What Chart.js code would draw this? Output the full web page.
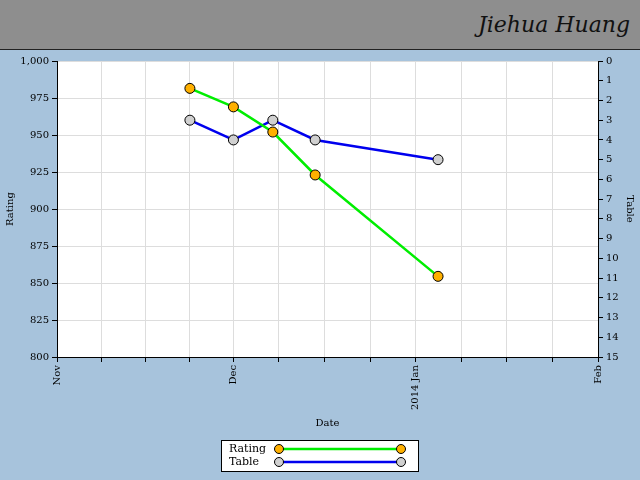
<!DOCTYPE html>
<html><head><meta charset="utf-8">
<script src="https://cdn.jsdelivr.net/npm/chart.js@4"></script>
<style>
body{margin:0;width:640px;height:480px;background:#a7c3dc;overflow:hidden}
#hdr{position:absolute;left:0;top:0;width:640px;height:50px;background:#8e8e8e;border-bottom:1px solid #222;box-sizing:border-box}
#hdr span{position:absolute;right:10px;top:12px;font:italic 22px "DejaVu Serif",serif;color:#111}
#wrap{position:absolute;left:0;top:50px;width:640px;height:430px}
</style></head><body>
<div id="hdr"><span>Jiehua Huang</span></div>
<div id="wrap"><canvas id="c" width="640" height="430"></canvas></div>
<script>
// days since 2013-11-01
const dates=[22.6,30,36.7,43.9,64.8];
const rating=[981.5,969,952,923,854.5];
const table=[3,4,3,4,5];
const monthTicks=[0,30,61,92];
const monthLabels=['Nov','Dec','2014 Jan','Feb'];
const F='"DejaVu Serif",serif';
const minorTicks=[];
for(let m=0;m<3;m++){const a=monthTicks[m],b=monthTicks[m+1];for(let q=0;q<4;q++)minorTicks.push(a+(b-a)*q/4);}
minorTicks.push(92);
const legendPlugin={id:'leg',afterDraw(ch){const c=ch.ctx;const x=221,y=390,w=197,h=31;
c.save();c.fillStyle='#fff';c.fillRect(x,y,w,h);c.strokeStyle='#000';c.lineWidth=1;c.strokeRect(x+.5,y+.5,w,h);
c.font='11px '+F;c.fillStyle='#000';c.textBaseline='middle';
[['Rating','#00ee00','#ffb000',y+9],['Table','#0000ee','#d0d0d0',y+22]].forEach(r=>{
c.fillText(r[0],x+8,r[3]);c.strokeStyle=r[1];c.lineWidth=2.5;c.beginPath();c.moveTo(x+58,r[3]);c.lineTo(x+180,r[3]);c.stroke();
[x+58,x+180].forEach(px=>{c.beginPath();c.arc(px,r[3],4.5,0,7);c.fillStyle=r[2];c.fill();c.strokeStyle='#000';c.lineWidth=1;c.stroke();});c.fillStyle='#000';});
c.restore();}};
const bg={id:'bg',beforeDraw(ch){const a=ch.chartArea,c=ch.ctx;c.save();c.fillStyle='#fff';c.fillRect(a.left,a.top,a.right-a.left,a.bottom-a.top);c.restore();}};
new Chart(document.getElementById('c'),{type:'line',
data:{datasets:[
{label:'Rating',data:dates.map((d,i)=>({x:d,y:rating[i]})),yAxisID:'y',borderColor:'#00ee00',borderWidth:2.5,pointBackgroundColor:'#ffb000',pointBorderColor:'#000',pointBorderWidth:1,pointRadius:5,tension:0},
{label:'Table',data:dates.map((d,i)=>({x:d,y:table[i]})),yAxisID:'y2',borderColor:'#0000ee',borderWidth:2.5,pointBackgroundColor:'#d0d0d0',pointBorderColor:'#000',pointBorderWidth:1,pointRadius:5,tension:0}]},
options:{responsive:false,animation:false,layout:{padding:{top:11,bottom:47,left:0,right:0}},
plugins:{legend:{display:false},tooltip:{enabled:false}},
scales:{
x:{type:'linear',min:0,max:92,afterBuildTicks(s){s.ticks=minorTicks.map(v=>({value:v}));},afterFit(s){s.height=76;},
ticks:{autoSkip:false,maxRotation:90,minRotation:90,font:{family:F,size:10},color:'#000',callback(v){const i=monthTicks.indexOf(v);return i>=0?monthLabels[i]:'';}},
grid:{color:'#dddddd',tickColor:'#000',tickLength:5},border:{color:'#000'},
title:{display:true,text:'Date',font:{family:F,size:10},color:'#000'}},
y:{position:'left',min:800,max:1000,afterFit(s){s.width=57;},ticks:{stepSize:25,font:{family:F,size:10},color:'#000'},grid:{color:'#dddddd',tickColor:'#000',tickLength:5},border:{color:'#000'},
title:{display:true,text:'Rating',font:{family:F,size:10},color:'#000'}},
y2:{position:'right',min:0,max:15,reverse:true,afterFit(s){s.width=42;},ticks:{stepSize:1,font:{family:F,size:10},color:'#000'},grid:{drawOnChartArea:false,tickColor:'#000',tickLength:5},border:{color:'#000'},
title:{display:true,text:'Table',font:{family:F,size:10},color:'#000'}}}},
plugins:[bg,legendPlugin]});
</script></body></html>
